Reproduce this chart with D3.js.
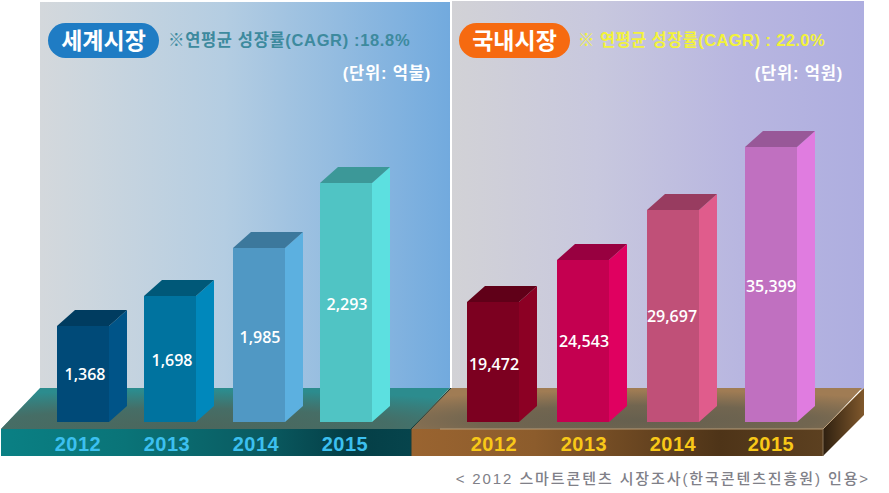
<!DOCTYPE html>
<html>
<head>
<meta charset="utf-8">
<script src="https://cdn.jsdelivr.net/npm/d3@7"></script>
<style>
  html, body { margin: 0; padding: 0; background: #fff; }
  text { font-family: "Liberation Sans", "Noto Sans CJK KR", sans-serif; }
  .year { font-weight: bold; font-size: 20px; text-anchor: middle; letter-spacing: 0.5px; }
  .val { font-family: "Open Sans", sans-serif; font-weight: 600; font-size: 16px; fill: #fff; text-anchor: middle; }
</style>
</head>
<body>
<svg width="889" height="493"></svg>
<script>
const years = ['2012', '2013', '2014', '2015'];
const worldValues = [1368, 1698, 1985, 2293];
const koreaValues = [19472, 24543, 29697, 35399];
const worldFront = ['#004a78', '#00739f', '#5098c4', '#50c4c4'];
const worldSide = ['#005488', '#0088bc', '#5cb0e0', '#5ce0e0'];
const worldTop = ['#003c60', '#005878', '#3c789c', '#3c9898'];
const koreaFront = ['#7c0020', '#c40050', '#c05078', '#c070c0'];
const koreaSide = ['#8c0024', '#e00060', '#e05c8c', '#e07ce0'];
const koreaTop = ['#600018', '#980040', '#983c60', '#985898'];

const svg = d3.select('svg');
const defs = svg.append('defs');
const dx = 18, dy = 16, barW = 52, baseY = 422;

function gradient(id, stops) {
  const g = defs.append('linearGradient').attr('id', id);
  stops.forEach(s => g.append('stop').attr('offset', s[0]).attr('stop-color', s[1]));
}
function glow(id, cx, cy, r, color, opacity) {
  const g = defs.append('radialGradient').attr('id', id)
    .attr('cx', cx).attr('cy', cy).attr('r', r);
  g.append('stop').attr('offset', 0).attr('stop-color', color).attr('stop-opacity', opacity);
  g.append('stop').attr('offset', 0.5).attr('stop-color', color).attr('stop-opacity', opacity * 0.8);
  g.append('stop').attr('offset', 1).attr('stop-color', color).attr('stop-opacity', 0);
}
gradient('bgL', [[0, '#d4d8dc'], [0.12, '#ccd6de'], [0.45, '#b4cde2'], [1, '#72aade']]);
gradient('bgR', [[0, '#d2d2d6'], [0.35, '#c8c8de'], [0.7, '#b8b6e0'], [1, '#aeaee0']]);
gradient('frontL', [[0, '#0a8084'], [0.3, '#0a7478'], [0.65, '#0a5a60'], [0.85, '#043e46'], [1, '#06444c']]);
gradient('frontR', [[0, '#9a6430'], [0.3, '#8c5c2c'], [0.75, '#4e3418'], [1, '#5c4020']]);
gradient('sideR', [[0, '#2e2010'], [1, '#80582c']]);
glow('floorGlowL', 0.42, 0.95, 0.9, '#4c665c', 1);
glow('floorGlowR', 0.52, 0.8, 0.75, '#66604f', 1);

function panel(opt) {
  // backdrop
  svg.append('rect').attr('x', opt.bgX).attr('y', opt.bgY).attr('width', opt.bgW).attr('height', 390 - opt.bgY)
    .attr('fill', 'url(#' + opt.bg + ')');

  // slab under the bars
  const f = opt.floor, w = opt.floorW;
  const slab = d3.line()([[f + 39, 388], [f + w + 39, 388], [f + w, 429], [f, 429]]);
  svg.append('path').attr('d', slab).attr('fill', opt.floorFill);
  svg.append('path').attr('d', slab).attr('fill', 'url(#' + opt.floorGlow + ')');
  svg.append('rect').attr('x', f).attr('y', 429).attr('width', w).attr('height', 27)
    .attr('fill', 'url(#' + opt.frontFill + ')');

  const x = d3.scaleOrdinal().domain(years).range(opt.xs);
  // bars aren't to scale in the source, so the axis is piecewise
  const y = d3.scaleLinear().domain(opt.values).range(opt.tops);

  const bars = svg.append('g').selectAll('g').data(opt.values).join('g');
  bars.append('rect')
    .attr('x', (d, i) => x(years[i])).attr('y', d => y(d))
    .attr('width', barW).attr('height', d => baseY - y(d))
    .attr('fill', (d, i) => opt.front[i]);
  bars.append('path')
    .attr('d', (d, i) => {
      const r = x(years[i]) + barW;
      return d3.line()([[r, y(d)], [r + dx, y(d) - dy], [r + dx, baseY - dy], [r, baseY]]);
    })
    .attr('fill', (d, i) => opt.side[i]);
  bars.append('path')
    .attr('d', (d, i) => {
      const l = x(years[i]);
      return d3.line()([[l, y(d)], [l + dx, y(d) - dy], [l + barW + dx, y(d) - dy], [l + barW, y(d)]]);
    })
    .attr('fill', (d, i) => opt.top[i]);

  bars.append('text').attr('class', 'val')
    .attr('x', (d, i) => opt.valX[i]).attr('y', (d, i) => opt.valY[i])
    .text(d => d3.format(',')(d));

  svg.append('g').selectAll('text').data(years).join('text')
    .attr('class', 'year').attr('x', (d, i) => opt.yearX[i]).attr('y', 451)
    .attr('fill', opt.yearColor).text(d => d);

  // header
  svg.append('rect').attr('x', opt.pillX).attr('y', 23).attr('width', 111).attr('height', 35).attr('rx', 17.5)
    .attr('fill', opt.pillColor);
  svg.append('text').attr('x', opt.pillX + 55.5).attr('y', 49).attr('text-anchor', 'middle')
    .attr('font-size', 23).attr('font-weight', 700).attr('fill', '#fff').text(opt.title);
  svg.append('text').attr('x', opt.cagrX).attr('y', 46)
    .attr('font-size', 16.5).attr('font-weight', 700).attr('letter-spacing', opt.cagrSpacing)
    .attr('fill', opt.cagrColor).text(opt.cagr);
  svg.append('text').attr('x', opt.unitX).attr('y', 79).attr('text-anchor', 'end')
    .attr('font-size', 16.5).attr('font-weight', 700).attr('letter-spacing', 0.8)
    .attr('fill', '#fff').text(opt.unit);
}

panel({
  bgX: 40, bgY: 2, bgW: 410, bg: 'bgL', floor: 1, floorW: 410,
  floorFill: '#2c8c8e', floorGlow: 'floorGlowL', frontFill: 'frontL',
  values: worldValues, xs: [57, 144, 233, 320], tops: [326, 296, 248, 183],
  front: worldFront, side: worldSide, top: worldTop,
  valX: [85, 172, 260, 347], valY: [380, 366, 343, 310],
  yearX: [78, 167, 256, 345], yearColor: '#3cc0f0',
  pillX: 48, pillColor: '#1f7cc4', title: '세계시장',
  cagrX: 168, cagrColor: '#3d8a9e', cagrSpacing: 0.65, cagr: '※연평균 성장률(CAGR) :18.8%',
  unitX: 431, unit: '(단위: 억불)'
});

panel({
  bgX: 452, bgY: 1, bgW: 412, bg: 'bgR', floor: 411, floorW: 412,
  floorFill: '#a07c54', floorGlow: 'floorGlowR', frontFill: 'frontR',
  values: koreaValues, xs: [467, 557, 647, 745], tops: [302, 260, 210, 147],
  front: koreaFront, side: koreaSide, top: koreaTop,
  valX: [494, 584, 672, 771], valY: [370, 347, 322, 292],
  yearX: [494, 584, 673, 771], yearColor: '#f8c818',
  pillX: 459, pillColor: '#f66a10', title: '국내시장',
  cagrX: 578, cagrColor: '#f2f23c', cagrSpacing: 0.4, cagr: '※ 연평균 성장률(CAGR) : 22.0%',
  unitX: 843, unit: '(단위: 억원)'
});

// right end of the slab and its edge highlights
svg.append('path').attr('d', d3.line()([[823, 429], [864, 388], [864, 415], [823, 456]]))
  .attr('fill', 'url(#sideR)');
svg.append('path').attr('d', d3.line()([[440, 429], [823, 429], [864, 388]]))
  .attr('fill', 'none').attr('stroke', '#b89c78').attr('stroke-width', 1);
svg.append('path').attr('d', d3.line()([[823, 429], [823, 456]]))
  .attr('fill', 'none').attr('stroke', '#8a7458').attr('stroke-width', 1);
svg.append('path').attr('d', d3.line()([[451, 388], [411, 429], [411, 456]]))
  .attr('fill', 'none').attr('stroke', '#123c3c').attr('stroke-width', 1);

svg.append('text').attr('x', 870).attr('y', 484).attr('text-anchor', 'end')
  .attr('font-size', 15).attr('font-weight', 500).attr('letter-spacing', 1.9).attr('fill', '#808088')
  .text('< 2012 스마트콘텐츠 시장조사(한국콘텐츠진흥원) 인용>');
</script>
</body>
</html>
